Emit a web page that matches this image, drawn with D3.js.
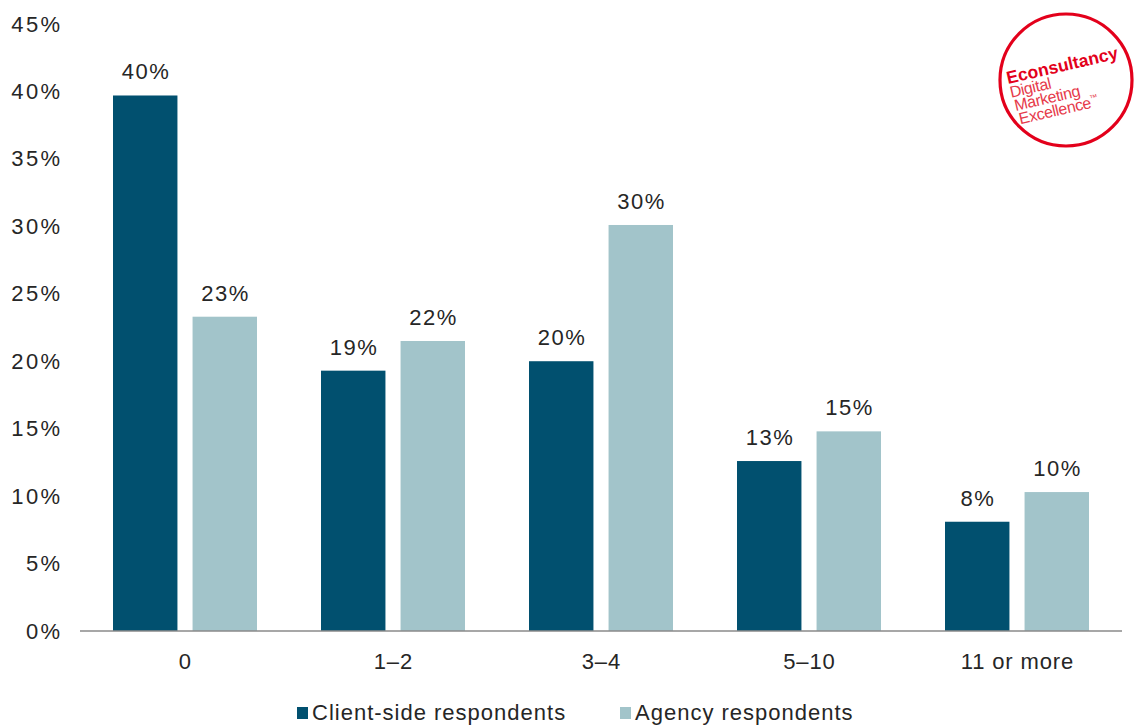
<!DOCTYPE html>
<html>
<head>
<meta charset="utf-8">
<script src="https://cdn.jsdelivr.net/npm/d3@7"></script>
<style>
  html, body { margin: 0; padding: 0; background: #fff; }
  svg { display: block; }
  text { font-family: "Liberation Sans", Arial, sans-serif; fill: #262626; }
</style>
</head>
<body>
<svg id="chart" width="1136" height="727"></svg>
<script>
// ---- data ----
const categories = ["0", "1\u20132", "3\u20134", "5\u201310", "11 or more"];
const seriesNames = ["Client-side respondents", "Agency respondents"];
const clientValues = [39.7, 19.3, 20.0, 12.6, 8.1];
const agencyValues = [23.3, 21.5, 30.1, 14.8, 10.3];
const yTicks = [0, 5, 10, 15, 20, 25, 30, 35, 40, 45];
const seriesColors = ["#01506f", "#a2c4ca"];

// ---- layout ----
const svg = d3.select("#chart");

const x0 = d3.scaleBand()
  .domain(categories)
  .range([81, 1121])
  .paddingInner(64 / 208)
  .paddingOuter(32 / 208);

const x1 = d3.scaleBand()
  .domain(seriesNames)
  .range([0, x0.bandwidth()])
  .paddingInner(0.19)
  .paddingOuter(0);

const y = d3.scaleLinear().domain([0, 45]).range([631, 24]);

const color = d3.scaleOrdinal().domain(seriesNames).range(seriesColors);

const rows = categories.map((c, i) => ({
  cat: c,
  vals: [
    { s: seriesNames[0], v: clientValues[i] },
    { s: seriesNames[1], v: agencyValues[i] }
  ]
}));

// y axis labels (no line, no ticks)
const yAxis = d3.axisLeft(y)
  .tickValues(yTicks)
  .tickFormat(d => d + "%")
  .tickSize(0)
  .tickPadding(0);

const yG = svg.append("g")
  .attr("transform", "translate(62.5,0)")
  .call(yAxis);
yG.select(".domain").remove();
yG.selectAll("text")
  .attr("font-size", 22)
  .attr("letter-spacing", 2.4)
  .attr("fill", "#262626")
  .attr("font-family", "Liberation Sans, Arial, sans-serif");

// bars
const groups = svg.append("g").selectAll("g")
  .data(rows)
  .join("g")
  .attr("transform", d => `translate(${x0(d.cat)},0)`);

groups.selectAll("rect")
  .data(d => d.vals)
  .join("rect")
  .attr("x", d => x1(d.s))
  .attr("width", x1.bandwidth())
  .attr("y", d => y(d.v))
  .attr("height", d => y(0) - y(d.v))
  .attr("fill", d => color(d.s));

groups.selectAll("text.val")
  .data(d => d.vals)
  .join("text")
  .attr("class", "val")
  .attr("x", d => x1(d.s) + x1.bandwidth() / 2 + 0.8)
  .attr("y", d => y(d.v) - 16)
  .attr("text-anchor", "middle")
  .attr("font-size", 22)
  .attr("letter-spacing", 1.5)
  .text(d => Math.round(d.v) + "%");

// x axis baseline + category labels
const xAxis = d3.axisBottom(x0).tickSize(0).tickPadding(0);
const xG = svg.append("g")
  .attr("transform", `translate(0,${y(0)})`)
  .call(xAxis);
xG.select(".domain").remove();
xG.selectAll("text")
  .attr("dy", null)
  .attr("y", 38)
  .attr("font-size", 22)
  .attr("letter-spacing", 0.85)
  .attr("fill", "#262626")
  .attr("font-family", "Liberation Sans, Arial, sans-serif")
  .attr("dx", 0.4);

svg.append("line")
  .attr("x1", 80).attr("x2", 1122)
  .attr("y1", y(0)).attr("y2", y(0))
  .attr("stroke", "#8a8a8a")
  .attr("stroke-width", 1.5);

// legend
const legendPos = [297, 620];
const lg = svg.append("g").selectAll("g")
  .data(seriesNames)
  .join("g")
  .attr("transform", (d, i) => `translate(${legendPos[i]},0)`);
lg.append("rect")
  .attr("x", 0).attr("y", 707)
  .attr("width", 11).attr("height", 12)
  .attr("fill", d => color(d));
lg.append("text")
  .attr("x", 15).attr("y", 720)
  .attr("font-size", 22)
  .attr("letter-spacing", 1.0)
  .text(d => d);

// logo
const logo = svg.append("g");
logo.append("circle")
  .attr("cx", 1066).attr("cy", 80).attr("r", 66)
  .attr("fill", "#fff")
  .attr("stroke", "#e3001b")
  .attr("stroke-width", 3.2);
const lt = logo.append("g")
  .attr("transform", "translate(1008,84) rotate(-13)");
lt.append("text")
  .attr("x", 0).attr("y", 0)
  .attr("font-size", 17.5)
  .attr("font-weight", "bold")
  .style("fill", "#e3001b")
  .text("Econsultancy");
const logoLines = ["Digital", "Marketing", "Excellence"];
const ll = lt.selectAll("text.l")
  .data(logoLines)
  .join("text")
  .attr("class", "l")
  .attr("x", (d, i) => i * 1.5)
  .attr("y", (d, i) => 14 + i * 14)
  .attr("font-size", 16)
  .attr("font-family", "Roboto, Liberation Sans, sans-serif")
  .attr("font-weight", 300)
  .style("fill", "#e63a4a")
  .attr("letter-spacing", -0.4)
  .text(d => d);
ll.filter((d, i) => i === 2)
  .append("tspan")
  .attr("font-size", 8)
  .attr("dy", -7)
  .text("\u2122");
</script>
</body>
</html>
